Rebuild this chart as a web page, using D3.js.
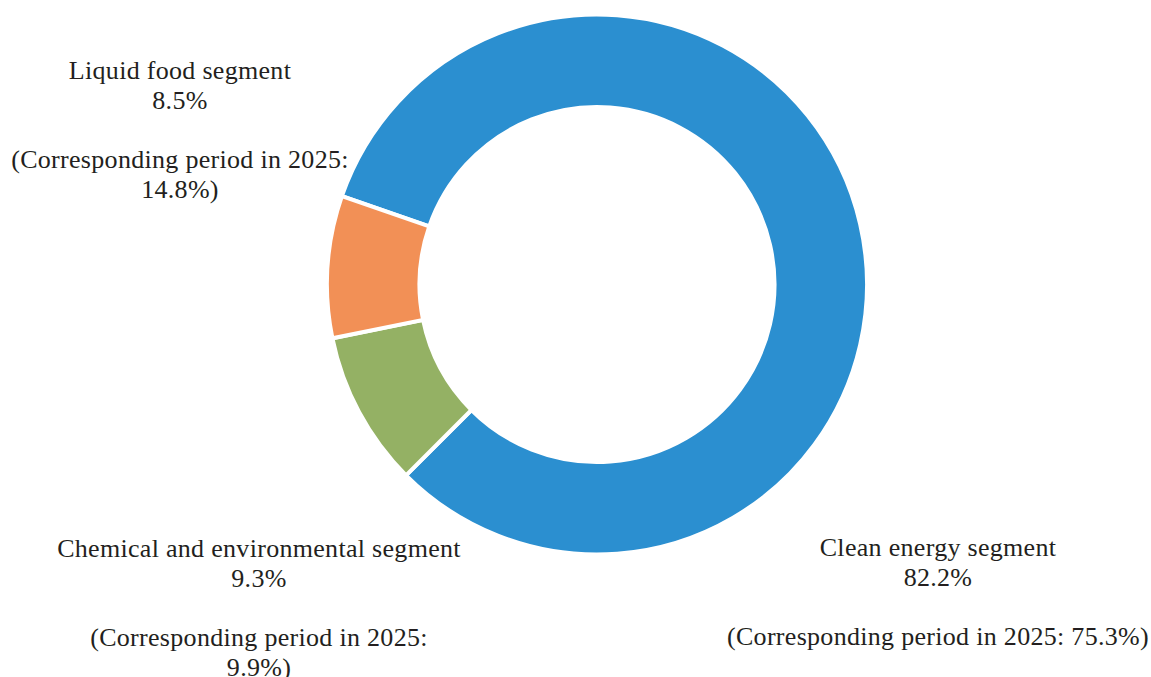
<!DOCTYPE html>
<html><head><meta charset="utf-8">
<script src="https://cdn.jsdelivr.net/npm/d3@7"></script>
<style>html,body{margin:0;padding:0;background:#fff;}svg{display:block;}</style>
</head><body>
<svg id="chart" width="1151" height="677"></svg>
<script>
const categories = ["Clean energy segment", "Chemical and environmental segment", "Liquid food segment"];
const values = [82.2, 9.3, 8.5];
const prevValues = [75.3, 9.9, 14.8];
const colors = ["#2b8fd0", "#94b164", "#f29056"];

const svg = d3.select("#chart");
const cx = 597, cy = 284.5;
const startDeg = -70.9;

const pie = d3.pie().sort(null).value(d => d)
  .startAngle(startDeg * Math.PI / 180)
  .endAngle(startDeg * Math.PI / 180 + 2 * Math.PI);
const arc = d3.arc().innerRadius(177.5).outerRadius(270);

const g = svg.append("g").attr("transform", `translate(${cx},${cy})`);
g.selectAll("path").data(pie(values)).join("path")
  .attr("d", arc)
  .attr("fill", (d, i) => colors[i])
  .attr("stroke", "#fff")
  .attr("stroke-width", 4)
  .attr("stroke-linejoin", "miter");

// label blocks (offset of each line from the block's first baseline)
const offs = [0, 30, 89, 119];
const labelLayout = [
  {x: 938, y: 556, lines: [categories[0], values[0].toFixed(1) + "%", `(Corresponding period in 2025: ${prevValues[0].toFixed(1)}%)`]},
  {x: 259, y: 557, lines: [categories[1], values[1].toFixed(1) + "%", "(Corresponding period in 2025:", prevValues[1].toFixed(1) + "%)"]},
  {x: 180, y: 79, lines: [categories[2], values[2].toFixed(1) + "%", "(Corresponding period in 2025:", prevValues[2].toFixed(1) + "%)"]}
];
labelLayout.forEach(l => {
  const t = svg.append("text")
    .attr("x", l.x).attr("y", l.y)
    .attr("text-anchor", "middle")
    .attr("font-family", "'Liberation Serif', 'Times New Roman', serif")
    .attr("font-size", 26)
    .attr("letter-spacing", 0.3)
    .attr("fill", "#231f20");
  l.lines.forEach((s, i) => {
    t.append("tspan").attr("x", l.x).attr("y", l.y + offs[i]).text(s);
  });
});
</script>
</body></html>
